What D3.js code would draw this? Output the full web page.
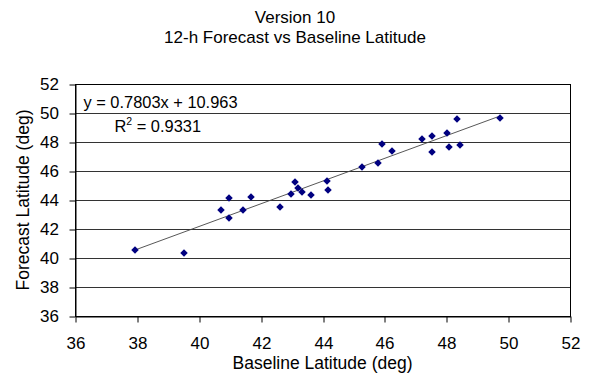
<!DOCTYPE html>
<html>
<head>
<meta charset="utf-8">
<script src="https://cdn.jsdelivr.net/npm/d3@7"></script>
<style>
	body { margin: 0; background: #fff; }
	text { font-family: "Liberation Sans", Arial, sans-serif; fill: #000; }
</style>
</head>
<body>
<div id="chart"></div>
<script>
const titleLines = ["Version 10", "12-h Forecast vs Baseline Latitude"];
const xLabel = "Baseline Latitude (deg)";
const yLabel = "Forecast Latitude (deg)";

const baselineLat = [37.95, 39.52, 40.73, 40.99, 40.98, 41.42, 41.70, 42.64, 42.98, 43.10,
	43.22, 43.35, 43.64, 44.14, 44.17, 45.28, 45.78, 45.93, 46.25, 47.22,
	47.54, 47.55, 48.03, 48.10, 48.36, 48.45, 49.73];
const forecastLat = [40.57, 40.32, 43.31, 44.12, 42.76, 43.31, 44.23, 43.51, 44.41, 45.22,
	44.85, 44.57, 44.37, 45.33, 44.67, 46.25, 46.53, 47.88, 47.38, 48.21,
	48.41, 47.31, 48.64, 47.68, 49.61, 47.79, 49.68];

const xTicks = [36, 38, 40, 42, 44, 46, 48, 50, 52];
const yTicks = [36, 38, 40, 42, 44, 46, 48, 50, 52];

// trendline from the chart's own label
const slope = 0.7803,
	intercept = 10.963,
	rSquared = "0.9331";

const width = 591,
	height = 385;
const plotLeft = 75,
	plotRight = 570,
	plotTop = 84,
	plotBottom = 316;

const points = baselineLat.map((x, i) => ({ x: x, y: forecastLat[i] }));

const svg = d3
	.select("#chart")
	.append("svg")
	.attr("width", width)
	.attr("height", height);

const x = d3.scaleLinear().domain([36, 52]).rangeRound([plotLeft, plotRight]);
const y = d3.scaleLinear().domain([36, 52]).rangeRound([plotBottom, plotTop]);
// unrounded copies for the markers and trendline
const xm = x.copy().range([plotLeft, plotRight]);
const ym = y.copy().range([plotBottom, plotTop]);

const g = svg.append("g").attr("transform", "translate(0.5,0.5)");

// horizontal gridlines
g.append("g")
	.selectAll("line")
	.data(yTicks)
	.enter()
	.append("line")
	.attr("x1", plotLeft)
	.attr("x2", plotRight)
	.attr("y1", (d) => y(d))
	.attr("y2", (d) => y(d))
	.attr("stroke", "#333");

// plot border
g.append("rect")
	.attr("x", plotLeft)
	.attr("y", plotTop)
	.attr("width", plotRight - plotLeft)
	.attr("height", plotBottom - plotTop)
	.attr("fill", "none")
	.attr("stroke", "#000");

const xAxis = g
	.append("g")
	.attr("transform", `translate(0,${plotBottom})`)
	.call(d3.axisBottom(x).tickValues(xTicks).tickSize(6).tickPadding(14).tickSizeOuter(0));

const yAxis = g
	.append("g")
	.attr("transform", `translate(${plotLeft},0)`)
	.call(d3.axisLeft(y).tickValues(yTicks).tickSize(6).tickPadding(10.5).tickSizeOuter(0));

[xAxis, yAxis].forEach((a) => {
	a.select(".domain").attr("stroke", "#000");
	a.selectAll(".tick line").attr("stroke", "#000");
	a.selectAll(".tick text")
		.attr("fill", "#000")
		.style("font-size", "17px")
		.style("font-family", '"Liberation Sans", Arial, sans-serif');
});

// trendline
const xs = d3.extent(baselineLat);
svg.append("line")
	.attr("x1", xm(xs[0]))
	.attr("y1", ym(slope * xs[0] + intercept))
	.attr("x2", xm(xs[1]))
	.attr("y2", ym(slope * xs[1] + intercept))
	.attr("stroke", "#444")
	.attr("stroke-width", 0.9);

// markers
svg.append("g")
	.selectAll("path")
	.data(points)
	.enter()
	.append("path")
	.attr("d", d3.symbol().type(d3.symbolSquare).size(28))
	.attr("transform", (d) => `translate(${xm(d.x)},${ym(d.y)}) rotate(45)`)
	.attr("fill", "#000080");

// equation label
svg.append("text")
	.attr("x", 83.5)
	.attr("y", 107.5)
	.style("font-size", "16.4px")
	.text(`y = ${slope}x + ${intercept}`);

const r2 = svg.append("text")
	.attr("x", 114.5)
	.attr("y", 131.5)
	.style("font-size", "16.4px");
r2.append("tspan").text("R");
r2.append("tspan").attr("dy", -6.5).style("font-size", "10.5px").text("2");
r2.append("tspan").attr("dy", 6.5).text(` = ${rSquared}`);

// two-line title
svg.append("g")
	.selectAll("text")
	.data(titleLines)
	.enter()
	.append("text")
	.attr("x", 295)
	.attr("y", (d, i) => 23 + i * 19.6)
	.attr("text-anchor", "middle")
	.style("font-size", "17px")
	.text((d) => d);

svg.append("text")
	.attr("x", (plotLeft + plotRight) / 2)
	.attr("y", 369)
	.attr("text-anchor", "middle")
	.style("font-size", "17.5px")
	.text(xLabel);

svg.append("text")
	.attr("transform", `translate(28.5,${(plotTop + plotBottom) / 2}) rotate(-90)`)
	.attr("text-anchor", "middle")
	.style("font-size", "17.5px")
	.text(yLabel);
</script>
</body>
</html>
